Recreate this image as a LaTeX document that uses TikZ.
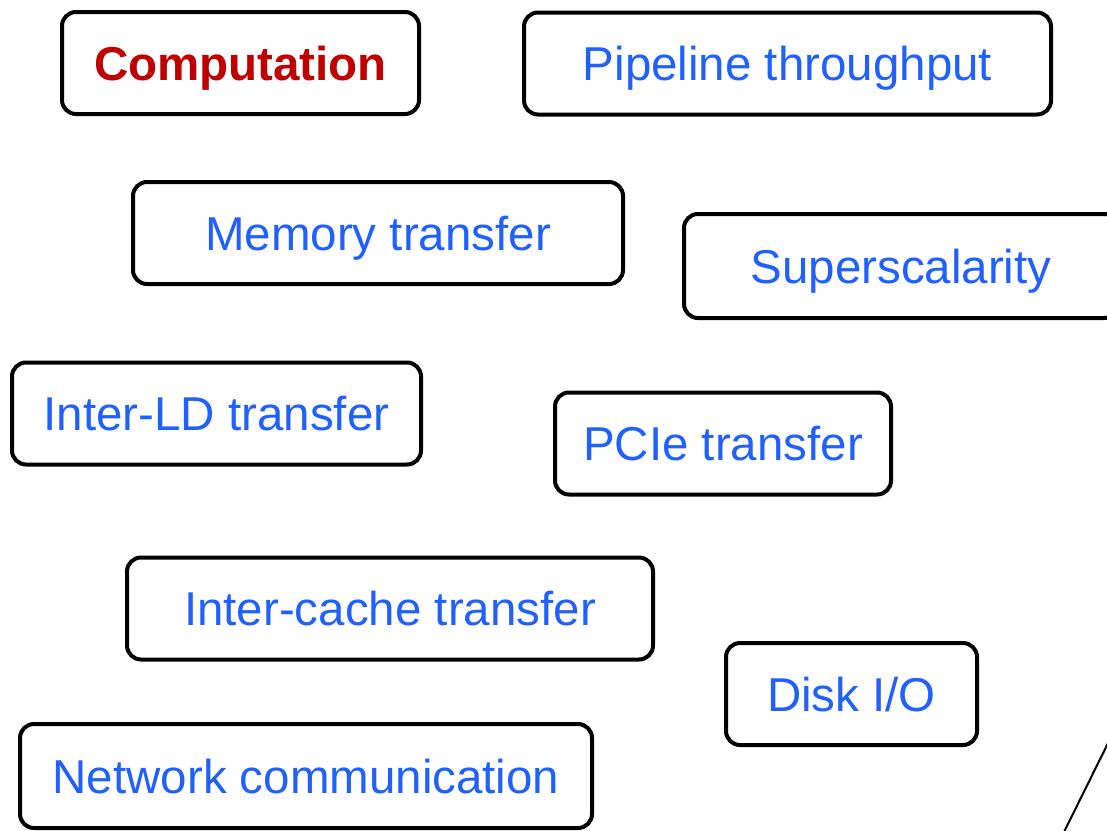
\documentclass[tikz,border=0pt]{standalone}
\usepackage{fontspec}
\setmainfont{Liberation Sans}
\definecolor{termblue}{RGB}{32,96,255}
\definecolor{termred}{RGB}{192,0,0}
\begin{document}
\begin{tikzpicture}[x=1pt,y=1pt,
  term/.style={draw=black, line width=4pt, rounded corners=14pt, fill=white,
    text=termblue, font=\fontsize{47.5}{57}\selectfont, inner sep=0pt,
    text height=34pt, text depth=0pt, minimum height=102pt},
  key/.style={term, text=termred, font=\fontsize{47.5}{57}\selectfont\bfseries}]
\useasboundingbox (0,0) rectangle (1107,-830);
\node[key,  minimum width=357pt] (comp)  at (240.5,-63)   {Computation};
\node[term, minimum width=527pt] (pipe)  at (787.5,-63.5) {Pipeline throughput};
\node[term, minimum width=490pt] (mem)   at (378,-233)    {Memory transfer};
\node[term, minimum width=434pt, minimum height=104pt] (super) at (901,-266) {Superscalarity};
\node[term, minimum width=409pt] (ild)   at (216.5,-413.5){Inter-LD transfer};
\node[term, minimum width=336pt] (pcie)  at (723,-443.5)  {PCIe transfer};
\node[term, minimum width=526pt] (cache) at (390,-608.5)  {Inter-cache transfer};
\node[term, minimum width=251pt] (disk)  at (851.5,-694)  {Disk I/O};
\node[term, minimum width=572pt, minimum height=104pt] (net) at (306,-776) {Network communication};
\coordinate (lineA) at (1116,-727);
\coordinate (lineB) at (1062,-836);
\draw[line width=2pt] (lineA) -- (lineB);
\end{tikzpicture}
\end{document}
